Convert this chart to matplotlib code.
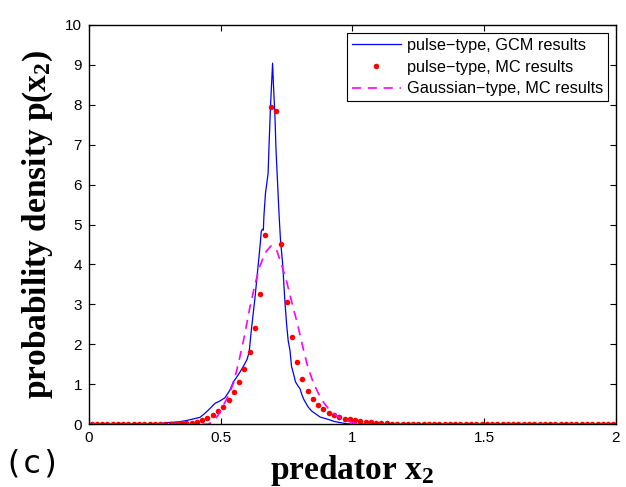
import numpy as np
import matplotlib
matplotlib.use("Agg")
import matplotlib.pyplot as plt

# ---- data ----
# pulse-type, GCM results (blue line)
gcm_x = [0, 0.25, 0.30, 0.345, 0.383, 0.421, 0.440, 0.459, 0.478, 0.497, 0.516, 0.535,
         0.548, 0.560, 0.573, 0.592, 0.600, 0.608, 0.617, 0.630, 0.643, 0.650, 0.654,
         0.658, 0.662, 0.664, 0.670, 0.680, 0.683, 0.689, 0.697, 0.700, 0.706, 0.710,
         0.716, 0.722, 0.727, 0.735, 0.744, 0.750, 0.756, 0.763, 0.769, 0.775, 0.784,
         0.794, 0.801, 0.809, 0.817, 0.826, 0.832, 0.845, 0.858, 0.877, 0.908, 0.930,
         0.953, 0.980, 1.0, 2.0]
gcm_y = [0, 0, 0.04, 0.06, 0.11, 0.17, 0.27, 0.39, 0.52, 0.58, 0.66, 0.85,
         1.06, 1.17, 1.30, 1.52, 1.62, 1.80, 2.40, 3.15, 4.03, 4.50, 4.82,
         4.88, 4.86, 5.20, 5.78, 6.28, 6.87, 7.95, 9.04, 8.54, 7.70, 6.87,
         6.03, 5.20, 4.61, 4.03, 3.05, 2.52, 2.10, 1.85, 1.44, 1.30, 1.06,
         0.95, 0.89, 0.72, 0.60, 0.50, 0.43, 0.33, 0.27, 0.18, 0.12, 0.07,
         0.04, 0.01, 0, 0]

# bin centres for MC results
bin_centres = [round(0.01 + 0.02 * k, 2) for k in range(100)]

# pulse-type, MC results (red dots), listed from 0.01 up to 1.21, then zeros
pulse_mc_head = [0, 0, 0, 0, 0, 0, 0, 0, 0, 0,            # 0.01 - 0.19
                 0, 0, 0, 0, 0.005, 0.01, 0.015, 0.02, 0.03, 0.04,   # 0.21 - 0.39
                 0.06, 0.10, 0.15, 0.22, 0.32, 0.44, 0.60, 0.80, 1.06, 1.39,  # 0.41 - 0.59
                 1.81, 2.41, 3.27, 4.74, 7.95, 7.83, 4.51, 3.07, 2.19, 1.55,  # 0.61 - 0.79
                 1.12, 0.83, 0.62, 0.47, 0.37, 0.28, 0.22, 0.18, 0.14, 0.12,  # 0.81 - 0.99
                 0.10, 0.08, 0.06, 0.05, 0.04, 0.03, 0.02, 0.015, 0.01, 0.01,  # 1.01 - 1.19
                 0.005]
pulse_mc = pulse_mc_head + [0] * (100 - len(pulse_mc_head))

# Gaussian-type, MC results (magenta dashed)
gauss_mc_head = [0] * 23 + [                               # 0.01 - 0.45
    0.05, 0.22, 0.47, 0.72, 1.05, 1.60, 2.20,              # 0.47 - 0.59
    2.90, 3.50, 3.98, 4.30, 4.46, 4.40, 4.02, 3.58, 3.05, 2.55,  # 0.61 - 0.79
    1.98, 1.45, 1.07, 0.78, 0.55, 0.38, 0.26, 0.17, 0.11, 0.06,  # 0.81 - 0.99
    0.03, 0.015, 0.005]
gauss_mc = gauss_mc_head + [0] * (100 - len(gauss_mc_head))

x_ticks = [0, 0.5, 1, 1.5, 2]
x_tick_labels = ["0", "0.5", "1", "1.5", "2"]
y_ticks = list(range(0, 11))

legend_labels = ["pulse\u2212type, GCM results",
                 "pulse\u2212type, MC results",
                 "Gaussian\u2212type, MC results"]

# ---- style ----
plt.rcParams["font.family"] = ["Liberation Sans", "DejaVu Sans"]
plt.rcParams["mathtext.fontset"] = "custom"
plt.rcParams["mathtext.rm"] = "Liberation Serif:bold"
plt.rcParams["mathtext.bf"] = "Liberation Serif:bold"
plt.rcParams["mathtext.it"] = "Liberation Serif:bold"
plt.rcParams["mathtext.default"] = "bf"

fig = plt.figure(figsize=(6.26, 4.87), dpi=100)
ax = fig.add_axes([0.142, 0.129, 0.842, 0.820])

ax.plot(gcm_x, gcm_y, color=(0, 0, 1), lw=0.9, label=legend_labels[0])
ax.plot(bin_centres, pulse_mc, ls="none", marker="o", color=(1, 0, 0),
        markersize=4.0, markeredgewidth=0, label=legend_labels[1])
ax.plot(bin_centres, gauss_mc, color=(1, 0, 1), lw=1.2, ls=(0, (5.5, 4)),
        label=legend_labels[2])

ax.set_xlim(0, 2)
ax.set_ylim(0, 10)
ax.set_xticks(x_ticks)
ax.set_xticklabels(x_tick_labels)
ax.set_yticks(y_ticks)
ax.tick_params(direction="in", top=True, right=True, length=4, width=0.8,
               labelsize=11, pad=5)
for s in ax.spines.values():
    s.set_linewidth(1.0)

ax.set_xlabel("predator x$_2$", fontsize=24, family="Liberation Serif",
              fontweight="bold")
ax.xaxis.set_label_coords(0.5, -0.071)
ax.xaxis.label.set_va("top")
ax.set_ylabel("probability density p(x$_2$)", fontsize=24,
              family="Liberation Serif", fontweight="bold")
ax.yaxis.set_label_coords(-0.0645, 0.5)

leg = ax.legend(loc="upper right", fontsize=11.7, frameon=True, fancybox=False,
                edgecolor="black", framealpha=1, borderpad=0.3,
                handlelength=3.0, handletextpad=0.37, labelspacing=0.42,
                borderaxespad=0.5)
leg.get_frame().set_linewidth(0.8)

fig.text(0.006, 0.03, "(c)", fontsize=23, family="DejaVu Sans Mono")

fig.savefig("out.png", dpi=100)
